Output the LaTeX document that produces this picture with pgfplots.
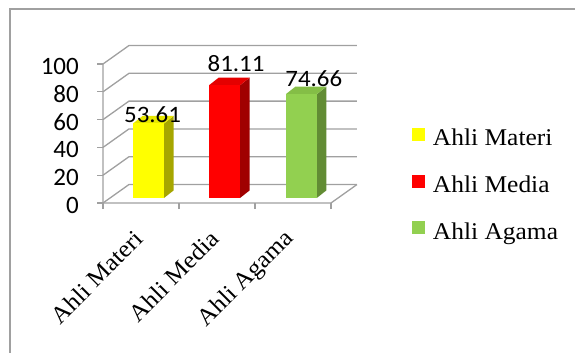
\documentclass[border=0pt]{standalone}
\usepackage{fontspec}
\setmainfont{Liberation Serif}[FakeStretch=1.06]
\newfontfamily\calib{Carlito}[FakeStretch=1.06]
\newfontfamily\calibT{Carlito}
\usepackage{pgfplots}
\pgfplotsset{compat=1.18}
\definecolor{gridc}{RGB}{160,160,160}
\definecolor{yfront}{RGB}{255,255,0}
\definecolor{ytop}{RGB}{232,232,0}
\definecolor{yside}{RGB}{166,166,0}
\definecolor{rfront}{RGB}{255,0,0}
\definecolor{rtop}{RGB}{228,0,0}
\definecolor{rside}{RGB}{160,0,0}
\definecolor{gfront}{RGB}{146,208,80}
\definecolor{gtop}{RGB}{132,190,70}
\definecolor{gside}{RGB}{98,140,52}
\newcommand\lab{\fontsize{24}{28}\selectfont}
\newcommand\num{\calib\fontsize{23.5}{28}\selectfont}
\newcommand\tnum{\calibT\fontsize{25}{30}\selectfont}
\pgfplotsset{
  sqlegend/.style={legend image code/.code={\fill[#1] (0pt,-6.5pt) rectangle (13pt,6.5pt);}},
  lbl/.style 2 args={nodes near coords={\pgfmathprintnumber[fixed,fixed zerofill,precision=2]{\pgfplotspointmeta}},
     every node near coord/.append style={font=\num, anchor=base, inner sep=0pt, xshift=#1, yshift=#2}},
}
\begin{document}
\begin{tikzpicture}
\useasboundingbox (0,0) rectangle (575pt,353pt);
\draw[gridc, line width=1.5pt] (10pt,0pt) -- (10pt,344pt) -- (575pt,344pt);
\begin{axis}[
  at={(103pt,150pt)}, anchor=south west,
  scale only axis, width=258.4pt, height=159.85pt,
  xmin=0, xmax=3.4, ymin=0, ymax=115,
  clip=false,
  axis lines=left, axis line style={draw=none},
  tick align=outside,
  major tick length=6pt,
  tick style={gridc, line width=1.2pt},
  ytick={0,20,40,60,80,100},
  xtick={0,1,2,3}, xticklabels={},
  extra x ticks={0.5,1.5,2.5},
  extra x tick labels={Ahli Materi, Ahli Media, Ahli Agama},
  extra x tick style={grid=none, major tick length=0pt, tick style={draw=none},
     xticklabel style={font=\lab, inner sep=0pt, yshift=-32pt, xshift=-2pt, rotate=45, anchor=east}},
  yticklabel style={font=\tnum, inner sep=0pt, xshift=-18pt, yshift=-2.5pt},
  /pgf/number format/assume math mode=true,
  legend style={at={(1.1958,0.4692)}, anchor=north west, draw=none, fill=none,
     inner sep=0pt, outer sep=0pt, row sep=24.5pt, column sep=8pt, font=\lab,
     nodes={inner sep=0pt, text height=17pt, text depth=4pt}},
  legend cell align=left,
]
% walls and floor
\draw[gridc, line width=1.3pt] (axis cs:0,0) -- (axis cs:0.342,13.3) -- (axis cs:3.342,13.3);
\draw[gridc, line width=1.3pt] (axis cs:0,20) -- (axis cs:0.342,33.3) -- (axis cs:3.342,33.3);
\draw[gridc, line width=1.3pt] (axis cs:0,40) -- (axis cs:0.342,53.3) -- (axis cs:3.342,53.3);
\draw[gridc, line width=1.3pt] (axis cs:0,60) -- (axis cs:0.342,73.3) -- (axis cs:3.342,73.3);
\draw[gridc, line width=1.3pt] (axis cs:0,80) -- (axis cs:0.342,93.3) -- (axis cs:3.342,93.3);
\draw[gridc, line width=1.3pt] (axis cs:0,100) -- (axis cs:0.342,113.3) -- (axis cs:3.342,113.3);
\draw[gridc, line width=1.3pt] (axis cs:0,100) -- (axis cs:0,0) -- (axis cs:3,0) -- (axis cs:3.342,13.3);
% Ahli Materi
\addplot[fill=yside, draw=none, forget plot] coordinates {(0.803,3.6) (0.928,9.0) (0.928,62.61) (0.803,57.21)};
\addplot[fill=ytop, draw=none, forget plot] coordinates {(0.395,57.21) (0.803,57.21) (0.928,62.61) (0.520,62.61)};
\addplot[ybar, bar width=0.408, bar shift=0pt, fill=yfront, draw=none, yshift=5pt,
  sqlegend=yfront, lbl={4pt}{0.5pt}] coordinates {(0.599,53.61)};
\addlegendentry{Ahli Materi}
% Ahli Media
\addplot[fill=rside, draw=none, forget plot] coordinates {(1.803,3.6) (1.928,9.0) (1.928,90.11) (1.803,84.71)};
\addplot[fill=rtop, draw=none, forget plot] coordinates {(1.395,84.71) (1.803,84.71) (1.928,90.11) (1.520,90.11)};
\addplot[ybar, bar width=0.408, bar shift=0pt, fill=rfront, draw=none, yshift=5pt,
  sqlegend=rfront, lbl={11.5pt}{14pt}] coordinates {(1.599,81.11)};
\addlegendentry{Ahli Media}
% Ahli Agama
\addplot[fill=gside, draw=none, forget plot] coordinates {(2.813,3.6) (2.938,9.0) (2.938,83.66) (2.813,78.26)};
\addplot[fill=gtop, draw=none, forget plot] coordinates {(2.405,78.26) (2.813,78.26) (2.938,83.66) (2.530,83.66)};
\addplot[ybar, bar width=0.408, bar shift=0pt, fill=gfront, draw=none, yshift=5pt,
  sqlegend=gfront, lbl={12.5pt}{8pt}] coordinates {(2.609,74.66)};
\addlegendentry{Ahli Agama}
\end{axis}
\end{tikzpicture}
\end{document}
